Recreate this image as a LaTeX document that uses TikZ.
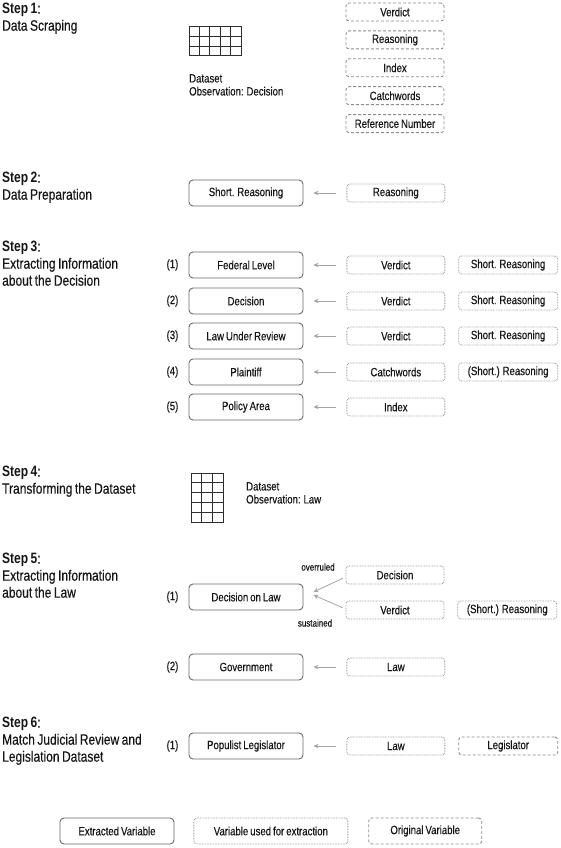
\documentclass[tikz,border=0pt]{standalone}
\usepackage{fontspec}
\setmainfont{Liberation Sans}[FakeStretch=0.8, WordSpace=0.75, UprightFeatures={FakeBold=0.4}, BoldFeatures={FakeBold=0}]
\usepackage{xcolor}
\definecolor{textDark}{HTML}{161616}
\definecolor{boxLine}{HTML}{6A6A6A}
\definecolor{usedLine}{HTML}{9C9C9C}
\definecolor{origLine}{HTML}{8C8C8C}
\definecolor{arrowGrey}{HTML}{A4A4A4}
\definecolor{gridDark}{HTML}{2E2E2E}
\usepackage{tikz}
\usetikzlibrary{positioning,calc,arrows.meta}
\newcommand{\stepFont}{\fontsize{15}{17}\selectfont}
\newcommand{\boxFont}{\fontsize{12}{13}\selectfont}
\newcommand{\tinyFont}{\fontsize{10}{11}\selectfont}
\tikzset{%
  extractedVar/.style={%
    rectangle,
    rounded corners=4pt,
    draw=boxLine,
    line width=0.9pt,
    minimum width=114pt,
    minimum height=26pt,
    inner sep=0pt,
    font=\boxFont,
    text=textDark
  },
  usedVar/.style={%
    rectangle,
    rounded corners=3pt,
    draw=usedLine,
    line width=0.8pt,
    dash pattern=on 0.8pt off 0.8pt,
    minimum width=98pt,
    minimum height=18pt,
    inner sep=0pt,
    font=\boxFont,
    text=textDark
  },
  origVar/.style={%
    rectangle,
    rounded corners=3pt,
    draw=origLine,
    line width=0.9pt,
    dash pattern=on 3pt off 2pt,
    minimum width=98pt,
    minimum height=18pt,
    inner sep=0pt,
    font=\boxFont,
    text=textDark
  },
  getArrow/.style={%
    -{Stealth[length=5pt,width=4.5pt]},
    draw=arrowGrey,
    line width=0.8pt,
    shorten <=10pt,
    shorten >=10pt
  },
  stepLabel/.style={%
    anchor=north west,
    align=left,
    inner sep=0pt,
    font=\stepFont,
    text=textDark
  },
  dataLabel/.style={%
    anchor=north west,
    align=left,
    inner sep=0pt,
    font=\boxFont,
    text=textDark
  },
  rowNum/.style={%
    inner sep=0pt,
    font=\boxFont,
    text=textDark
  },
  gridLine/.style={%
    draw=gridDark,
    line width=1pt
  }
}
\begin{document}
\begin{tikzpicture}[x=1pt,y=-1pt]
            \useasboundingbox (0,0) rectangle (560,848);

            % Step 1
            \node[stepLabel] (step1) at (2,3) {\textbf{Step 1}:\\Data Scraping};
            \draw[gridLine] (189,27) rectangle (241,56);
            \foreach \gx in {1,...,4}
              \draw[gridLine] (189+\gx*10.4,27) -- (189+\gx*10.4,56);
            \foreach \gy in {1,2}
              \draw[gridLine] (189,27+\gy*9.67) -- (241,27+\gy*9.67);
            \node[dataLabel] (data1) at (189,74) {Dataset\\Observation: Decision};
            \node[origVar] (verdictOrig) at (395,12) {Verdict};
            \node[origVar, below=9pt of verdictOrig] (reasonOrig) {Reasoning};
            \node[origVar, below=9pt of reasonOrig] (indexOrig) {Index};
            \node[origVar, below=9pt of indexOrig] (catchOrig) {Catchwords};
            \node[origVar, below=9pt of catchOrig] (refOrig) {Reference Number};

            % Step 2
            \node[stepLabel] (step2) at (2,172) {\textbf{Step 2}:\\Data Preparation};
            \node[extractedVar] (shortReason) at (246,193) {Short. Reasoning};
            \node[usedVar, right=43pt of shortReason] (reasonUsed) {Reasoning};
            \draw[getArrow] (reasonUsed) -- (shortReason);

            % Step 3
            \node[stepLabel] (step3) at (2,241) {\textbf{Step 3}:\\Extracting Information\\about the Decision};
            \node[extractedVar] (fedLevel) at (246,265) {Federal Level};
            \node[extractedVar] (decision) at (246,301) {Decision};
            \node[extractedVar] (lawReview) at (246,336) {Law Under Review};
            \node[extractedVar] (plaintiff) at (246,372) {Plaintiff};
            \node[extractedVar] (policyArea) at (246,407) {Policy Area};
            \node[rowNum, left=10pt of fedLevel] (numA) {(1)};
            \node[rowNum, left=10pt of decision] (numB) {(2)};
            \node[rowNum, left=10pt of lawReview] (numC) {(3)};
            \node[rowNum, left=10pt of plaintiff] (numD) {(4)};
            \node[rowNum, left=10pt of policyArea] (numE) {(5)};
            \node[usedVar, right=43pt of fedLevel] (verdictA) {Verdict};
            \node[usedVar, right=43pt of decision] (verdictB) {Verdict};
            \node[usedVar, right=43pt of lawReview] (verdictC) {Verdict};
            \node[usedVar, right=43pt of plaintiff] (catchUsed) {Catchwords};
            \node[usedVar, right=43pt of policyArea] (indexUsed) {Index};
            \node[usedVar, minimum width=99pt, right=13pt of verdictA] (shortA) {Short. Reasoning};
            \node[usedVar, minimum width=99pt, right=13pt of verdictB] (shortB) {Short. Reasoning};
            \node[usedVar, minimum width=99pt, right=13pt of verdictC] (shortC) {Short. Reasoning};
            \node[usedVar, minimum width=99pt, right=13pt of catchUsed] (shortD) {(Short.) Reasoning};
            \draw[getArrow] (verdictA) -- (fedLevel);
            \draw[getArrow] (verdictB) -- (decision);
            \draw[getArrow] (verdictC) -- (lawReview);
            \draw[getArrow] (catchUsed) -- (plaintiff);
            \draw[getArrow] (indexUsed) -- (policyArea);

            % Step 4
            \node[stepLabel] (step4) at (2,466) {\textbf{Step 4}:\\Transforming the Dataset};
            \draw[gridLine] (191,473) rectangle (223,522);
            \foreach \gx in {1,2}
              \draw[gridLine] (191+\gx*10.67,473) -- (191+\gx*10.67,522);
            \foreach \gy in {1,...,4}
              \draw[gridLine] (191,473+\gy*9.8) -- (223,473+\gy*9.8);
            \node[dataLabel] (data2) at (246,482) {Dataset\\Observation: Law};

            % Step 5
            \node[stepLabel] (step5) at (2,553) {\textbf{Step 5}:\\Extracting Information\\about the Law};
            \node[extractedVar] (lawDecision) at (246,597) {Decision on Law};
            \node[rowNum, left=10pt of lawDecision] (numF) {(1)};
            \node[usedVar] (decisionUsed) at (395,575) {Decision};
            \node[usedVar] (verdictD) at (395,610) {Verdict};
            \node[usedVar, minimum width=99pt, right=13pt of verdictD] (shortE) {(Short.) Reasoning};
            \draw[getArrow, shorten <=3pt, shorten >=0pt] ([yshift=-2pt]decisionUsed.west) -- ([xshift=10pt,yshift=5pt]lawDecision.east);
            \draw[getArrow, shorten <=3pt, shorten >=0pt] ([yshift=1pt]verdictD.west) -- ([xshift=10pt,yshift=2pt]lawDecision.east);
            \node[font=\tinyFont, text=textDark, inner sep=0pt] (overruled) at (318,567) {overruled};
            \node[font=\tinyFont, text=textDark, inner sep=0pt] (sustained) at (315,623) {sustained};
            \node[extractedVar] (government) at (246,667) {Government};
            \node[rowNum, left=10pt of government] (numG) {(2)};
            \node[usedVar, right=43pt of government] (lawUsedA) {Law};
            \draw[getArrow] (lawUsedA) -- (government);

            % Step 6
            \node[stepLabel] (step6) at (2,717) {\textbf{Step 6}:\\Match Judicial Review and\\Legislation Dataset};
            \node[extractedVar] (populist) at (246,746) {Populist Legislator};
            \node[rowNum, left=10pt of populist] (numH) {(1)};
            \node[usedVar, right=43pt of populist] (lawUsedB) {Law};
            \node[origVar, minimum width=99pt, right=13pt of lawUsedB] (legislatorOrig) {Legislator};
            \draw[getArrow] (lawUsedB) -- (populist);

            % Legend
            \node[extractedVar] (keyExtracted) at (117,831) {Extracted Variable};
            \node[usedVar, minimum width=154pt, minimum height=26pt, right=19pt of keyExtracted] (keyUsed) {Variable used for extraction};
            \node[origVar, minimum width=113pt, minimum height=26pt, right=20pt of keyUsed] (keyOrig) {Original Variable};
        \end{tikzpicture}
\end{document}
